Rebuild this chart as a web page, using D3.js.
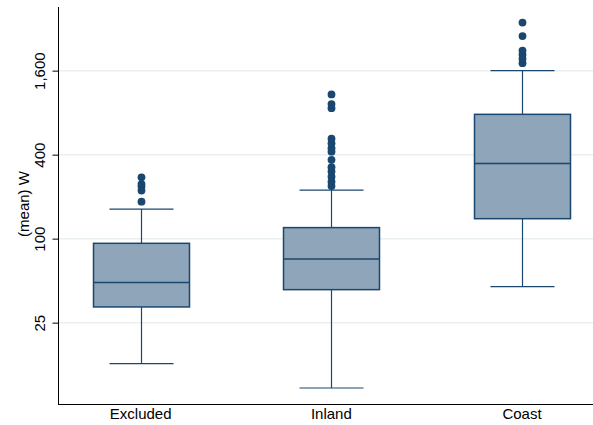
<!DOCTYPE html>
<html>
<head>
<meta charset="utf-8">
<script src="https://cdn.jsdelivr.net/npm/d3@7"></script>
<style>
  body { margin: 0; background: #fff; }
  svg { display: block; font-family: "Liberation Sans", Arial, sans-serif; }
</style>
</head>
<body>
<svg width="593" height="425"></svg>
<script>
const categories = ['Excluded', 'Inland', 'Coast'];
const lowWhisker = [12.7, 8.5, 45.3];
const q1 = [32.4, 43.1, 139];
const median = [48.4, 71.6, 346];
const q3 = [92.6, 120, 778];
const highWhisker = [163, 223, 1600];
const outliers = [
  [184, 221, 236, 246, 275],
  [238, 256, 278, 303, 325, 367, 420, 445, 482, 520, 862, 922, 1080],
  [1810, 1940, 2080, 2230, 2830, 3540]
];
const yTicks = [25, 100, 400, 1600];

const svg = d3.select('svg');
const width = +svg.attr('width');
const height = +svg.attr('height');

const navy = '#1a476f';
const boxFill = '#8fa5b9';

const plot = {left: 58.5, top: 7, bottom: 404, right: width};

const yScale = d3.scaleLog()
  .domain([6.53, 4574])
  .range([plot.bottom, plot.top]);

const xScale = d3.scalePoint()
  .domain(categories)
  .range([140.7, 522]);

const boxWidth = 96;
const capWidth = 64;

const data = categories.map((c, i) => ({
  cat: c,
  lo: lowWhisker[i], q1: q1[i], med: median[i], q3: q3[i], hi: highWhisker[i],
  out: outliers[i]
}));

// gridlines
svg.append('g')
  .selectAll('line').data(yTicks)
  .enter().append('line')
    .attr('x1', plot.left).attr('x2', plot.right)
    .attr('y1', d => yScale(d)).attr('y2', d => yScale(d))
    .attr('stroke', '#eaf0f2')
    .attr('stroke-width', 1.5);

const boxes = svg.append('g')
  .selectAll('g').data(data)
  .enter().append('g')
    .attr('transform', d => `translate(${Math.round(xScale(d.cat)) + 0.5},0)`);

// whiskers
boxes.append('line')
  .attr('y1', d => yScale(d.q3)).attr('y2', d => yScale(d.hi))
  .attr('stroke', navy).attr('stroke-width', 1.2);
boxes.append('line')
  .attr('y1', d => yScale(d.q1)).attr('y2', d => yScale(d.lo))
  .attr('stroke', navy).attr('stroke-width', 1.2);
boxes.append('line')
  .attr('x1', -capWidth / 2).attr('x2', capWidth / 2)
  .attr('y1', d => yScale(d.hi)).attr('y2', d => yScale(d.hi))
  .attr('stroke', navy).attr('stroke-width', 1.2);
boxes.append('line')
  .attr('x1', -capWidth / 2).attr('x2', capWidth / 2)
  .attr('y1', d => yScale(d.lo)).attr('y2', d => yScale(d.lo))
  .attr('stroke', navy).attr('stroke-width', 1.2);

// box
boxes.append('rect')
  .attr('x', -boxWidth / 2)
  .attr('width', boxWidth)
  .attr('y', d => yScale(d.q3))
  .attr('height', d => yScale(d.q1) - yScale(d.q3))
  .attr('fill', boxFill)
  .attr('stroke', navy)
  .attr('stroke-width', 1.5);
boxes.append('line')
  .attr('x1', -boxWidth / 2).attr('x2', boxWidth / 2)
  .attr('y1', d => yScale(d.med)).attr('y2', d => yScale(d.med))
  .attr('stroke', navy).attr('stroke-width', 1.5);

// outside values
boxes.selectAll('circle').data(d => d.out)
  .enter().append('circle')
    .attr('cy', d => yScale(d))
    .attr('r', 3.9)
    .attr('fill', navy);

// y axis
const yAxis = d3.axisLeft(yScale)
  .tickValues(yTicks)
  .tickFormat(d3.format(','))
  .tickSize(6)
  .tickPadding(4);

const yAxisG = svg.append('g')
  .attr('transform', `translate(${plot.left},0)`)
  .call(yAxis);
yAxisG.select('.domain')
  .attr('d', `M0,${plot.top}V${plot.bottom}`)
  .attr('stroke', '#000');
yAxisG.selectAll('.tick line').attr('stroke', '#000');
yAxisG.selectAll('.tick text')
  .attr('font-size', 15)
  .attr('fill', '#000')
  .attr('text-anchor', 'middle')
  .attr('x', 0)
  .attr('dy', 0)
  .attr('transform', 'translate(-14,0) rotate(-90)');

svg.append('text')
  .attr('transform', 'translate(29,204) rotate(-90)')
  .attr('text-anchor', 'middle')
  .attr('font-size', 15)
  .attr('fill', '#000')
  .text('(mean) W');

// x axis
svg.append('line')
  .attr('x1', plot.left - 0.5).attr('x2', plot.right)
  .attr('y1', plot.bottom + 0.5).attr('y2', plot.bottom + 0.5)
  .attr('stroke', '#000');

svg.append('g')
  .selectAll('text').data(categories)
  .enter().append('text')
    .attr('x', d => xScale(d))
    .attr('y', 419)
    .attr('text-anchor', 'middle')
    .attr('font-size', 15)
    .attr('fill', '#000')
    .text(d => d);
</script>
</body>
</html>
